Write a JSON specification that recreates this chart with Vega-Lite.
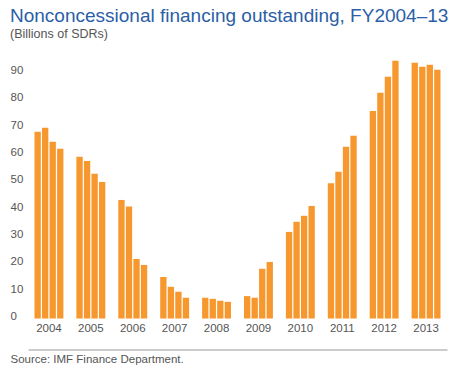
{
  "$schema": "https://vega.github.io/schema/vega-lite/v6.json",
  "autosize": "none",
  "width": 419,
  "height": 259.5,
  "padding": {"left": 28, "top": 59, "right": 16, "bottom": 56.5},
  "background": "white",
  "config": {"view": {"stroke": null}, "font": "Liberation Sans"},
  "title": {
    "text": "Nonconcessional financing outstanding, FY2004–13",
    "subtitle": "(Billions of SDRs)",
    "anchor": "start",
    "frame": "group",
    "dx": -18,
    "offset": 19,
    "font": "Liberation Sans",
    "fontSize": 19,
    "fontWeight": "normal",
    "color": "#2B5EA6",
    "subtitleFont": "Liberation Sans",
    "subtitleFontSize": 12.5,
    "subtitleColor": "#555555",
    "subtitlePadding": 2
  },
  "data": {
    "values": [
      {"year": "2004", "q": 1, "v": 68.4}, {"year": "2004", "q": 2, "v": 69.8}, {"year": "2004", "q": 3, "v": 64.7}, {"year": "2004", "q": 4, "v": 62.1},
      {"year": "2005", "q": 1, "v": 59.2}, {"year": "2005", "q": 2, "v": 57.7}, {"year": "2005", "q": 3, "v": 53.0}, {"year": "2005", "q": 4, "v": 50.0},
      {"year": "2006", "q": 1, "v": 43.4}, {"year": "2006", "q": 2, "v": 41.0}, {"year": "2006", "q": 3, "v": 21.8}, {"year": "2006", "q": 4, "v": 19.6},
      {"year": "2007", "q": 1, "v": 15.2}, {"year": "2007", "q": 2, "v": 11.6}, {"year": "2007", "q": 3, "v": 9.8}, {"year": "2007", "q": 4, "v": 7.6},
      {"year": "2008", "q": 1, "v": 7.6}, {"year": "2008", "q": 2, "v": 7.2}, {"year": "2008", "q": 3, "v": 6.5}, {"year": "2008", "q": 4, "v": 6.1},
      {"year": "2009", "q": 1, "v": 8.2}, {"year": "2009", "q": 2, "v": 7.6}, {"year": "2009", "q": 3, "v": 18.2}, {"year": "2009", "q": 4, "v": 20.7},
      {"year": "2010", "q": 1, "v": 31.7}, {"year": "2010", "q": 2, "v": 35.4}, {"year": "2010", "q": 3, "v": 37.6}, {"year": "2010", "q": 4, "v": 41.2},
      {"year": "2011", "q": 1, "v": 49.5}, {"year": "2011", "q": 2, "v": 53.7}, {"year": "2011", "q": 3, "v": 62.9}, {"year": "2011", "q": 4, "v": 66.9},
      {"year": "2012", "q": 1, "v": 76.0}, {"year": "2012", "q": 2, "v": 82.6}, {"year": "2012", "q": 3, "v": 88.5}, {"year": "2012", "q": 4, "v": 94.4},
      {"year": "2013", "q": 1, "v": 93.6}, {"year": "2013", "q": 2, "v": 92.2}, {"year": "2013", "q": 3, "v": 92.9}, {"year": "2013", "q": 4, "v": 91.1}
    ]
  },
  "mark": {"type": "bar", "color": "#F7982E"},
  "encoding": {
    "x": {
      "field": "year",
      "type": "nominal",
      "scale": {"paddingInner": 0.31, "paddingOuter": 0.155},
      "axis": {
        "title": "Source: IMF Finance Department.",
        "titleFont": "Liberation Sans",
        "titleFontSize": 11.5,
        "titleFontWeight": "normal",
        "titleColor": "#555555",
        "titleAnchor": "start",
        "titleAlign": "left",
        "titleBaseline": "top",
        "titleX": -18,
        "titleY": 4,
        "labelAngle": 0,
        "labelFontSize": 11.5,
        "labelColor": "#555555",
        "labelPadding": -27.5,
        "ticks": false,
        "domainColor": "#999999",
        "domainWidth": 1,
        "offset": 31
      }
    },
    "xOffset": {
      "field": "q",
      "type": "ordinal",
      "scale": {"paddingInner": 0.16, "paddingOuter": 0}
    },
    "y": {
      "field": "v",
      "type": "quantitative",
      "scale": {"domain": [0, 95], "nice": false},
      "axis": {
        "title": null,
        "values": [0, 10, 20, 30, 40, 50, 60, 70, 80, 90],
        "labelAlign": "left",
        "labelPadding": 18,
        "labelOffset": -2,
        "labelFontSize": 11.5,
        "labelColor": "#555555",
        "ticks": false,
        "domain": false,
        "grid": false
      }
    }
  }
}
